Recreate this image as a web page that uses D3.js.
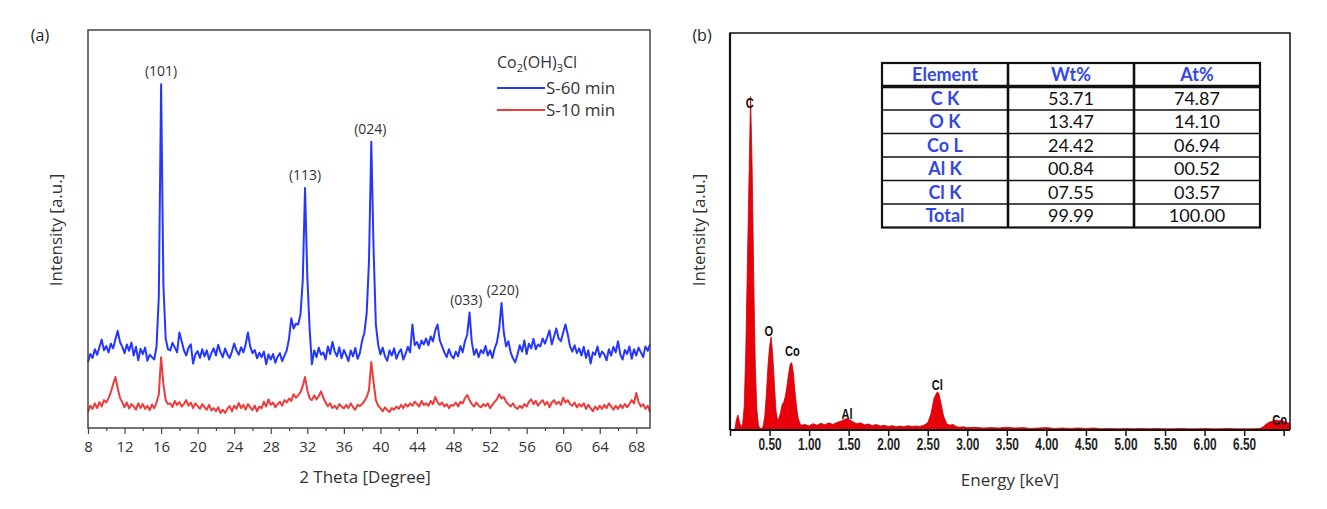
<!DOCTYPE html>
<html>
<head>
<meta charset="utf-8">
<script src="https://cdn.jsdelivr.net/npm/d3@7"></script>
<style>
    html, body { margin: 0; padding: 0; background: #ffffff; }
    svg { display: block; }
</style>
</head>
<body>
<div id="chart"></div>
<script>
// ---- panel (a): XRD patterns, one value every 0.25 degree from 8 to 69.5 ----
const xrdStart = 8;
const xrdStep = 0.25;

const xrd60 = [
    16.5, 18.6, 17.6, 19.8, 18.4, 20.3, 22.2, 19.5, 20.6, 19.0, 21.2, 20.0,
    22.3, 24.4, 21.6, 20.4, 18.8, 21.0, 19.4, 21.5, 18.2, 20.4, 17.0, 19.9,
    18.6, 20.2, 16.9, 18.4, 17.8, 17.2, 20.5, 33.0, 86.4, 36.0, 22.5, 19.8,
    19.5, 21.4, 20.2, 19.0, 24.0, 21.8, 19.5, 18.2, 20.2, 21.0, 16.2, 18.5,
    19.3, 17.6, 19.8, 18.0, 19.5, 17.2, 18.8, 20.0, 18.2, 20.9, 19.0, 17.8,
    20.0, 18.5, 17.6, 19.2, 21.2, 19.5, 18.4, 20.3, 19.0, 21.0, 24.0, 20.5,
    18.8, 19.6, 17.5, 18.9, 17.8, 19.2, 16.0, 18.5, 17.2, 18.6, 16.4, 17.9,
    18.8, 16.8, 18.2, 19.5, 22.5, 27.6, 25.0, 26.2, 26.0, 28.5, 37.0, 60.3,
    38.0, 25.0, 16.0, 19.5, 17.8, 20.2, 18.4, 19.0, 17.2, 20.5, 18.6, 21.6,
    19.2, 18.0, 20.3, 17.5, 19.6, 18.3, 16.8, 19.5, 18.0, 20.1, 17.4, 18.8,
    22.0, 24.0, 29.0, 42.0, 71.9, 45.0, 26.0, 21.0, 18.5, 20.2, 18.0, 16.9,
    19.5, 18.2, 20.0, 17.4, 18.9, 19.8, 17.2, 18.6, 20.4, 19.0, 26.0, 20.8,
    21.6, 20.0, 22.0, 21.0, 22.5, 20.8, 23.0, 21.8, 24.5, 26.0, 22.0, 20.5,
    19.0, 17.8, 19.8, 18.2, 17.5, 19.2, 18.0, 20.6, 19.0, 21.8, 23.5, 29.0,
    21.5, 18.4, 19.8, 17.8, 19.6, 18.8, 20.6, 18.2, 19.5, 17.6, 20.0, 21.5,
    25.0, 31.4, 24.0, 20.5, 21.8, 19.0, 17.5, 16.5, 18.4, 20.8, 19.2, 22.0,
    18.6, 21.2, 20.0, 22.4, 19.8, 21.0, 20.5, 22.5, 21.2, 22.8, 24.5, 21.0,
    23.0, 25.0, 22.5, 21.8, 24.0, 26.0, 23.5, 20.5, 19.2, 20.8, 18.8, 20.0,
    18.2, 20.4, 17.6, 19.5, 16.2, 19.0, 18.4, 20.5, 17.8, 19.2, 18.5, 17.0,
    19.8, 18.2, 20.4, 19.0, 21.8, 18.5, 17.2, 19.6, 18.6, 20.5, 17.4, 19.8,
    18.2, 20.2, 19.0, 17.8, 20.5, 19.4, 21.0
];

const xrd10 = [
    4.0, 5.6, 4.8, 6.2, 5.0, 6.5, 5.4, 7.0, 6.4, 7.5, 9.0, 11.0,
    12.8, 10.0, 7.6, 6.5, 5.2, 6.4, 4.9, 6.0, 5.4, 4.6, 6.2, 5.0,
    6.0, 4.8, 5.6, 4.5, 5.9, 5.0, 6.4, 8.5, 17.8, 11.0, 7.0, 6.0,
    6.2, 5.3, 6.8, 5.8, 6.5, 5.4, 6.0, 7.0, 5.6, 6.4, 5.0, 6.2,
    5.5, 4.8, 6.0, 5.2, 4.6, 5.8, 4.4, 5.0, 4.2, 5.2, 3.8, 4.6,
    3.8, 4.8, 5.5, 4.2, 5.6, 4.8, 6.3, 5.0, 5.8, 4.6, 6.0, 5.2,
    4.5, 5.6, 4.2, 5.4, 5.0, 6.6, 5.4, 7.2, 5.8, 6.4, 5.2, 6.0,
    6.6, 5.6, 7.0, 6.4, 7.4, 6.8, 8.5, 7.6, 8.2, 9.0, 10.5, 12.8,
    9.5, 7.5, 7.0, 8.2, 7.2, 8.0, 9.2, 7.6, 6.4, 5.5, 6.2, 5.0,
    5.6, 4.8, 6.0, 5.4, 4.9, 5.8, 5.0, 6.2, 5.2, 4.6, 5.8, 5.5,
    6.0, 6.8, 7.8, 9.5, 16.6, 11.5, 7.0, 5.6, 5.0, 4.2, 5.2, 4.5,
    4.0, 5.0, 4.6, 5.4, 4.8, 5.8, 5.0, 6.0, 5.4, 6.2, 5.6, 6.6,
    6.0, 5.4, 6.8, 5.8, 6.2, 5.6, 6.8, 6.0, 7.8, 6.5, 5.8, 6.4,
    5.4, 6.0, 5.0, 5.8, 5.6, 6.4, 5.4, 6.6, 6.2, 7.5, 8.3, 7.0,
    6.0, 5.4, 6.4, 5.6, 5.2, 6.0, 5.5, 6.2, 5.0, 5.8, 6.6, 7.2,
    8.5, 7.4, 7.8, 6.6, 6.0, 5.4, 6.2, 5.2, 4.8, 5.6, 5.0, 6.0,
    5.4, 6.6, 7.2, 6.0, 6.8, 5.6, 6.4, 7.0, 5.8, 6.6, 5.2, 6.4,
    7.0, 6.0, 6.6, 5.8, 7.6, 6.4, 7.0, 6.0, 5.6, 6.4, 5.2, 6.0,
    5.4, 6.2, 4.8, 5.8, 5.0, 4.2, 5.4, 4.6, 5.6, 4.8, 5.8, 5.0,
    6.2, 5.4, 4.6, 5.6, 4.8, 5.8, 5.0, 6.0, 5.2, 6.0, 7.0, 6.2,
    8.8, 6.5, 5.4, 6.0, 4.8, 5.6, 4.0
];

const xrdSeriesNames = ["S-60 min", "S-10 min"];
const xrdMajorTicks = [8, 12, 16, 20, 24, 28, 32, 36, 40, 44, 48, 52, 56, 60, 64, 68];
const xrdMinorTicks = [10, 14, 18, 22, 26, 30, 34, 38, 42, 46, 50, 54, 58, 62, 66];
const hklLabels = ["(101)", "(113)", "(024)", "(033)", "(220)"];
const hklAngles = [16.0, 31.75, 38.9, 49.4, 53.4];

// ---- panel (b): EDS spectrum, [energy keV, counts] ----
const edsSpectrum = [
    [0.06, 0], [0.08, 2.5], [0.10, 3.8], [0.12, 2.0], [0.14, 0.6], [0.16, 1.5],
    [0.18, 6], [0.20, 20], [0.22, 42], [0.24, 63], [0.26, 84], [0.28, 66],
    [0.30, 38], [0.32, 16], [0.34, 5], [0.36, 1.2], [0.38, 0.4], [0.40, 0.3],
    [0.42, 1.0], [0.44, 3.5], [0.46, 9], [0.48, 16], [0.50, 21], [0.52, 23.4],
    [0.54, 19], [0.56, 12], [0.58, 5], [0.60, 2.5], [0.62, 3.0], [0.64, 4.5],
    [0.66, 6.5], [0.68, 7.0], [0.70, 8.5], [0.72, 11], [0.74, 14], [0.76, 16.5],
    [0.78, 17], [0.80, 14.5], [0.82, 10], [0.84, 6], [0.86, 3.2], [0.88, 1.8],
    [0.90, 1.2], [0.95, 1.4], [1.00, 1.0], [1.05, 1.6], [1.10, 1.2], [1.15, 1.7],
    [1.20, 1.3], [1.25, 1.8], [1.30, 1.4], [1.35, 1.9], [1.40, 2.2], [1.44, 2.6],
    [1.48, 2.9], [1.52, 2.5], [1.56, 2.0], [1.60, 1.6], [1.65, 1.8], [1.70, 1.3],
    [1.75, 1.5], [1.80, 1.1], [1.85, 1.4], [1.90, 1.0], [1.95, 1.2], [2.00, 0.9],
    [2.05, 1.1], [2.10, 0.8], [2.15, 1.0], [2.20, 0.8], [2.25, 1.1], [2.30, 0.9],
    [2.35, 1.0], [2.40, 0.9], [2.45, 1.2], [2.50, 1.8], [2.54, 4.0], [2.58, 8.0],
    [2.62, 9.6], [2.64, 9.2], [2.66, 7.5], [2.70, 3.5], [2.74, 1.6], [2.78, 1.2],
    [2.82, 1.4], [2.86, 0.9], [2.90, 0.7], [2.95, 0.8], [3.00, 0.6], [3.10, 0.7],
    [3.20, 0.5], [3.30, 0.6], [3.40, 0.5], [3.50, 0.7], [3.60, 0.5], [3.70, 0.6],
    [3.80, 0.4], [3.90, 0.5], [4.00, 0.6], [4.10, 0.4], [4.20, 0.5], [4.30, 0.4],
    [4.40, 0.5], [4.50, 0.4], [4.60, 0.5], [4.70, 0.3], [4.80, 0.4], [4.90, 0.3],
    [5.00, 0.4], [5.10, 0.3], [5.20, 0.4], [5.30, 0.3], [5.40, 0.4], [5.50, 0.3],
    [5.60, 0.3], [5.70, 0.4], [5.80, 0.3], [5.90, 0.3], [6.00, 0.4], [6.10, 0.3],
    [6.20, 0.3], [6.30, 0.4], [6.40, 0.3], [6.50, 0.3], [6.60, 0.3], [6.70, 0.4],
    [6.74, 0.8], [6.78, 1.5], [6.82, 2.0], [6.86, 2.2], [6.90, 2.5], [6.94, 2.3],
    [6.98, 2.4], [7.02, 2.0], [7.06, 1.8], [7.08, 1.6]
];

const edsTicks = [0, 0.5, 1, 1.5, 2, 2.5, 3, 3.5, 4, 4.5, 5, 5.5, 6, 6.5, 7];
const edsTickLabels = ["", "0.50", "1.00", "1.50", "2.00", "2.50", "3.00", "3.50",
    "4.00", "4.50", "5.00", "5.50", "6.00", "6.50", ""];
const edsPeakNames = ["C", "O", "Co", "Al", "Cl", "Co"];
const edsPeakEnergy = [0.25, 0.49, 0.79, 1.48, 2.62, 6.95];
const edsPeakLevel = [81.1, 23.7, 18.6, 2.8, 10.1, 1.3];

// ---- composition table ----
const tableHeader = ["Element", "Wt%", "At%"];
const tableElements = ["C K", "O K", "Co L", "Al K", "Cl K", "Total"];
const tableWt = ["53.71", "13.47", "24.42", "00.84", "07.55", "99.99"];
const tableAt = ["74.87", "14.10", "06.94", "00.52", "03.57", "100.00"];

(function () {
    "use strict";

    const d3 = window.d3;
    const width = 1327;
    const height = 509;
    const sans = "'Open Sans', 'Noto Sans', sans-serif";
    const boldSans = "'Liberation Sans', Arial, sans-serif";
    const tableFont = "Lato, 'Open Sans', sans-serif";
    const blueText = "#3447e4";
    // the EDS software labels are in a condensed bold face; squeeze a regular one
    const squeeze = "scale(0.74,1)";

    const svg = d3.select("#chart")
        .append("svg")
        .attr("width", width)
        .attr("height", height)
        .attr("viewBox", [0, 0, width, height])
        .style("font-family", sans);

    // ================= panel (a) =================
    const pa = { left: 88, right: 650, top: 30, bottom: 428 };
    const x = d3.scaleLinear().domain([8, 69.5]).range([pa.left, pa.right]);
    const y = d3.scaleLinear().domain([0, 100]).range([pa.bottom, pa.top]);
    const angles = xrd60.map((_, i) => xrdStart + i * xrdStep);

    const line = d3.line()
        .x((d, i) => x(angles[i]))
        .y((d) => y(d));

    svg.append("path")
        .datum(xrd10)
        .attr("d", line)
        .attr("fill", "none")
        .attr("stroke", "#ee3b3b")
        .attr("stroke-width", 2)
        .attr("stroke-linejoin", "round");

    svg.append("path")
        .datum(xrd60)
        .attr("d", line)
        .attr("fill", "none")
        .attr("stroke", "#2437ff")
        .attr("stroke-width", 2)
        .attr("stroke-linejoin", "round");

    svg.append("rect")
        .attr("x", pa.left)
        .attr("y", pa.top)
        .attr("width", pa.right - pa.left)
        .attr("height", pa.bottom - pa.top)
        .attr("fill", "none")
        .attr("stroke", "#444")
        .attr("stroke-width", 1.5);

    svg.append("g")
        .attr("transform", `translate(0,${pa.bottom})`)
        .call(d3.axisBottom(x).tickValues(xrdMinorTicks).tickSize(3).tickFormat(""))
        .call((g) => g.select(".domain").remove())
        .call((g) => g.selectAll("line").attr("stroke", "#444").attr("stroke-width", 1.2));

    svg.append("g")
        .attr("transform", `translate(0,${pa.bottom})`)
        .call(d3.axisBottom(x).tickValues(xrdMajorTicks).tickSize(6).tickPadding(7).tickFormat(d3.format("d")))
        .call((g) => g.select(".domain").remove())
        .call((g) => g.selectAll("line").attr("stroke", "#444").attr("stroke-width", 1.2))
        .call((g) => g.selectAll("text")
            .attr("fill", "#333")
            .style("font-family", sans)
            .style("font-size", "15px"));

    // hkl labels sit just above the local maximum of the S-60 curve
    hklLabels.forEach((label, k) => {
        const angle = hklAngles[k];
        let peak = 0;
        xrd60.forEach((v, i) => {
            if (Math.abs(angles[i] - angle) <= 0.5 && v > peak) {
                peak = v;
            }
        });
        svg.append("text")
            .attr("x", x(angle))
            .attr("y", y(peak) - 8)
            .attr("text-anchor", "middle")
            .attr("fill", "#333")
            .style("font-size", "14px")
            .text(label);
    });

    // legend
    const legend = svg.append("g").attr("transform", "translate(497,68)");
    const formula = legend.append("text")
        .attr("x", 0)
        .attr("y", 0)
        .attr("fill", "#333")
        .style("font-size", "16px");
    formula.append("tspan").text("Co");
    formula.append("tspan").attr("dy", 4).style("font-size", "11px").text("2");
    formula.append("tspan").attr("dy", -4).text("(OH)");
    formula.append("tspan").attr("dy", 4).style("font-size", "11px").text("3");
    formula.append("tspan").attr("dy", -4).text("Cl");

    const legendColors = ["#2437ff", "#ee3b3b"];
    xrdSeriesNames.forEach((name, i) => {
        const row = legend.append("g").attr("transform", `translate(0,${20 + i * 22})`);
        row.append("line")
            .attr("x1", 0)
            .attr("x2", 48)
            .attr("y1", 0)
            .attr("y2", 0)
            .attr("stroke", legendColors[i])
            .attr("stroke-width", 2);
        row.append("text")
            .attr("x", 49)
            .attr("y", 6)
            .attr("fill", "#333")
            .style("font-size", "17px")
            .text(name);
    });

    svg.append("text")
        .attr("x", 365)
        .attr("y", 483)
        .attr("text-anchor", "middle")
        .attr("fill", "#333")
        .style("font-size", "17px")
        .text("2 Theta [Degree]");

    svg.append("text")
        .attr("transform", "translate(62,230) rotate(-90)")
        .attr("text-anchor", "middle")
        .attr("fill", "#333")
        .style("font-size", "17px")
        .text("Intensity [a.u.]");

    svg.append("text")
        .attr("x", 40)
        .attr("y", 41)
        .attr("text-anchor", "middle")
        .attr("fill", "#222")
        .style("font-size", "16px")
        .text("(a)");

    // ================= panel (b) =================
    const pb = { left: 730, right: 1290, top: 33, bottom: 430 };
    const ex = d3.scaleLinear().domain([0, 7.08]).range([pb.left, pb.right]);
    const ey = d3.scaleLinear().domain([0, 100]).range([pb.bottom, pb.top]);

    svg.append("defs")
        .append("clipPath")
        .attr("id", "eds-clip")
        .append("rect")
        .attr("x", pb.left)
        .attr("y", pb.top)
        .attr("width", pb.right - pb.left)
        .attr("height", pb.bottom - pb.top);

    const plot = svg.append("g").attr("clip-path", "url(#eds-clip)");

    const area = d3.area()
        .x((d) => ex(d[0]))
        .y0(ey(0))
        .y1((d) => ey(d[1]));

    plot.append("path")
        .datum(edsSpectrum)
        .attr("d", area)
        .attr("fill", "#e8000b")
        .attr("stroke", "#c80008")
        .attr("stroke-width", 0.8);

    edsPeakNames.forEach((name, i) => {
        plot.append("g")
            .attr("transform", `translate(${ex(edsPeakEnergy[i])},${ey(edsPeakLevel[i])})`)
            .append("text")
            .attr("transform", squeeze)
            .attr("text-anchor", "middle")
            .attr("fill", "#111")
            .style("font-family", boldSans)
            .style("font-weight", "bold")
            .style("font-size", "15px")
            .text(name);
    });

    svg.append("path")
        .attr("d", `M${pb.left},${pb.bottom}V${pb.top}H${pb.right}V${pb.bottom}`)
        .attr("fill", "none")
        .attr("stroke", "#111")
        .attr("stroke-width", 1.5);

    svg.append("g")
        .attr("transform", `translate(0,${pb.bottom})`)
        .call(d3.axisBottom(ex)
            .tickValues(edsTicks)
            .tickSize(6)
            .tickPadding(3)
            .tickFormat((d, i) => edsTickLabels[i]))
        .call((g) => g.select(".domain")
            .attr("d", `M${pb.left},0H${pb.right}`)
            .attr("stroke", "#111")
            .attr("stroke-width", 2.2))
        .call((g) => g.selectAll("line").attr("stroke", "#111").attr("stroke-width", 1.5))
        .call((g) => g.selectAll("text")
            .attr("transform", squeeze)
            .attr("fill", "#222")
            .style("font-family", boldSans)
            .style("font-weight", "bold")
            .style("font-size", "16px"));

    svg.append("line")
        .attr("x1", pb.left)
        .attr("x2", pb.left)
        .attr("y1", pb.top)
        .attr("y2", pb.bottom)
        .attr("stroke", "#111")
        .attr("stroke-width", 2.2);

    svg.append("text")
        .attr("x", 1010)
        .attr("y", 486)
        .attr("text-anchor", "middle")
        .attr("fill", "#333")
        .style("font-size", "17px")
        .text("Energy [keV]");

    svg.append("text")
        .attr("transform", "translate(705,230) rotate(-90)")
        .attr("text-anchor", "middle")
        .attr("fill", "#333")
        .style("font-size", "17px")
        .text("Intensity [a.u.]");

    svg.append("text")
        .attr("x", 702)
        .attr("y", 41)
        .attr("text-anchor", "middle")
        .attr("fill", "#222")
        .style("font-size", "16px")
        .text("(b)");

    // ================= composition table =================
    const tb = { left: 882, top: 63, colW: 126, headH: 23.5, rowH: 23.5 };
    const tableRight = tb.left + tb.colW * 3;
    const tableBottom = tb.top + tb.headH + tb.rowH * tableElements.length;
    const table = svg.append("g");

    table.append("rect")
        .attr("x", tb.left)
        .attr("y", tb.top)
        .attr("width", tableRight - tb.left)
        .attr("height", tableBottom - tb.top)
        .attr("fill", "#fff")
        .attr("stroke", "#111")
        .attr("stroke-width", 2.2);

    tableElements.forEach((_, r) => {
        if (r === 0) {
            return;
        }
        const ly = tb.top + tb.headH + r * tb.rowH;
        table.append("line")
            .attr("x1", tb.left)
            .attr("x2", tableRight)
            .attr("y1", ly)
            .attr("y2", ly)
            .attr("stroke", "#111")
            .attr("stroke-width", 1.5);
    });

    table.append("line")
        .attr("x1", tb.left)
        .attr("x2", tableRight)
        .attr("y1", tb.top + tb.headH)
        .attr("y2", tb.top + tb.headH)
        .attr("stroke", "#111")
        .attr("stroke-width", 3.5);

    [1, 2].forEach((c) => {
        table.append("line")
            .attr("x1", tb.left + c * tb.colW)
            .attr("x2", tb.left + c * tb.colW)
            .attr("y1", tb.top)
            .attr("y2", tableBottom)
            .attr("stroke", "#111")
            .attr("stroke-width", 2.6);
    });

    const cellText = (col, rowTop, rowH, text, color, weight) => {
        table.append("text")
            .attr("x", tb.left + (col + 0.5) * tb.colW)
            .attr("y", rowTop + rowH / 2 + 6.5)
            .attr("text-anchor", "middle")
            .attr("fill", color)
            .style("font-family", tableFont)
            .style("font-weight", weight)
            .style("font-size", "18px")
            .text(text);
    };

    tableHeader.forEach((h, c) => cellText(c, tb.top, tb.headH, h, blueText, "bold"));

    tableElements.forEach((el, r) => {
        const rowTop = tb.top + tb.headH + r * tb.rowH;
        cellText(0, rowTop, tb.rowH, el, blueText, "bold");
        cellText(1, rowTop, tb.rowH, tableWt[r], "#111", "normal");
        cellText(2, rowTop, tb.rowH, tableAt[r], "#111", "normal");
    });
})();
</script>
</body>
</html>
